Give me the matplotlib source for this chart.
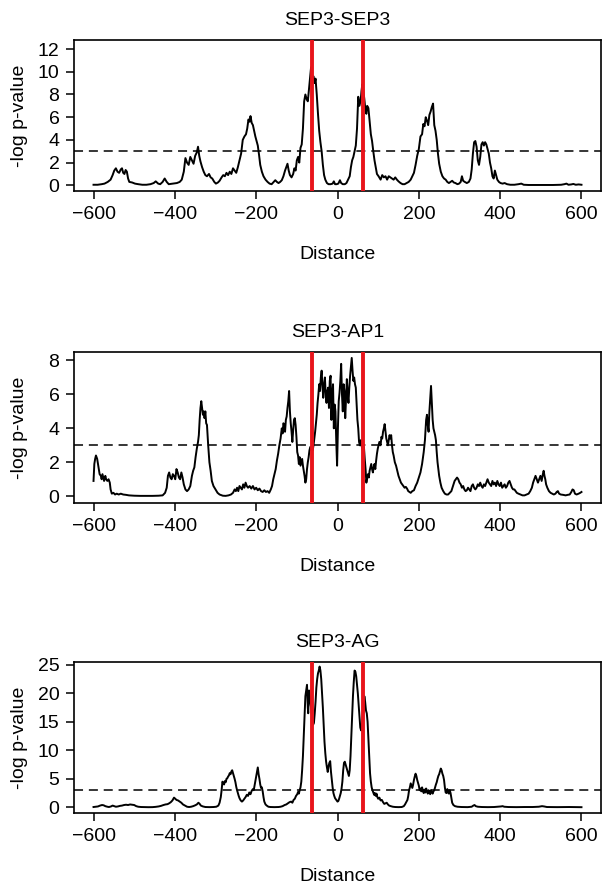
import matplotlib
matplotlib.use("Agg")
import matplotlib.pyplot as plt

plt.rcParams['font.family'] = ['Liberation Sans', 'DejaVu Sans']
plt.rcParams['lines.scale_dashes'] = False

# ---------------- data (distance, -log p-value) ----------------
sep3_sep3 = [(-600,0.05),(-590,0.05),(-580,0.1),(-573,0.15),(-565,0.3),(-558,0.5),(-553,0.9),(-549,1.3),(-545,1.5),(-541,1.2),(-537,1.1),(-533,1.4),(-530,1.5),(-527,1.1),(-524,1.0),(-521,1.35),(-518,1.2),(-515,0.6),(-512,0.3),(-505,0.25),(-498,0.15),(-490,0.1),(-480,0.05),(-470,0.05),(-460,0.1),(-452,0.2),(-447,0.35),(-441,0.15),(-436,0.1),(-430,0.3),(-425,0.6),(-420,0.3),(-415,0.1),(-405,0.15),(-395,0.2),(-388,0.3),(-383,0.5),(-378,1.2),(-374,2.4),(-370,2.0),(-366,1.8),(-362,2.5),(-358,2.2),(-354,1.9),(-350,2.6),(-346,2.9),(-343,3.4),(-340,2.6),(-337,2.1),(-333,1.6),(-329,1.2),(-325,0.9),(-321,0.8),(-316,1.0),(-312,0.7),(-308,0.6),(-303,0.3),(-299,0.15),(-294,0.25),(-290,0.4),(-285,0.7),(-281,0.9),(-277,0.8),(-273,1.1),(-269,0.9),(-265,1.2),(-261,1.0),(-257,1.5),(-253,1.3),(-249,1.1),(-245,1.6),(-241,2.2),(-237,2.8),(-233,4.0),(-229,4.3),(-225,4.5),(-222,5.0),(-219,5.8),(-216,5.6),(-214,6.1),(-211,5.5),(-208,5.3),(-205,4.8),(-202,4.3),(-199,3.9),(-196,3.5),(-193,2.7),(-190,1.8),(-186,1.2),(-182,0.8),(-177,0.5),(-172,0.3),(-167,0.15),(-162,0.1),(-157,0.3),(-153,0.45),(-149,0.3),(-145,0.2),(-141,0.3),(-137,0.45),(-133,0.8),(-129,1.3),(-126,1.6),(-123,1.9),(-120,1.3),(-117,0.9),(-113,0.7),(-109,1.0),(-106,1.5),(-103,1.3),(-100,2.2),(-97,2.5),(-94,2.0),(-91,3.3),(-88,3.6),(-85,5.0),(-82,7.4),(-79,8.0),(-76,7.6),(-73,7.4),(-70,8.5),(-67,9.5),(-65,10.4),(-62,9.4),(-59,9.6),(-56,9.0),(-54,9.4),(-51,8.0),(-48,6.3),(-45,4.8),(-42,3.8),(-39,3.0),(-36,1.8),(-33,0.9),(-30,0.5),(-26,0.2),(-22,0.1),(-17,0.1),(-12,0.15),(-9,0.35),(-6,0.1),(-2,0.1),(2,0.15),(6,0.45),(9,0.2),(13,0.1),(18,0.1),(22,0.2),(26,0.5),(30,0.8),(33,1.6),(36,2.2),(39,2.5),(42,3.0),(45,3.5),(48,5.0),(51,7.8),(54,7.0),(57,7.5),(59,8.3),(61,8.9),(63,8.5),(66,7.6),(69,6.5),(71,6.3),(73,7.0),(76,6.8),(79,5.6),(82,4.5),(85,3.9),(88,3.0),(91,2.2),(94,1.6),(97,1.0),(101,0.8),(106,0.5),(110,0.9),(114,0.7),(118,0.8),(122,0.5),(126,0.8),(130,0.7),(134,0.6),(138,0.5),(142,0.7),(146,0.5),(150,0.35),(155,0.2),(160,0.1),(165,0.1),(170,0.2),(175,0.3),(180,0.5),(184,0.8),(188,1.1),(192,1.8),(196,2.6),(200,3.2),(204,4.3),(208,4.5),(211,5.4),(214,5.2),(217,6.0),(220,5.7),(223,5.3),(226,6.2),(229,6.5),(232,6.9),(235,7.2),(238,5.3),(241,4.8),(244,4.0),(247,2.8),(250,1.9),(254,1.2),(258,0.8),(262,0.6),(266,0.5),(270,0.3),(274,0.2),(278,0.3),(282,0.4),(286,0.25),(290,0.2),(295,0.1),(299,0.15),(303,0.3),(306,0.8),(309,0.4),(313,0.3),(318,0.2),(323,0.3),(327,0.6),(330,1.4),(333,2.8),(336,3.8),(339,3.9),(342,3.4),(345,2.2),(348,1.8),(351,2.5),(354,3.6),(357,3.8),(360,3.5),(363,3.8),(366,3.6),(369,3.2),(372,2.8),(375,2.0),(378,1.5),(381,0.8),(384,0.6),(387,1.3),(390,0.9),(393,0.5),(397,0.3),(401,0.2),(406,0.15),(411,0.2),(417,0.1),(425,0.05),(435,0.05),(445,0.1),(452,0.15),(458,0.05),(470,0.03),(490,0.03),(510,0.03),(530,0.03),(550,0.05),(558,0.1),(563,0.15),(568,0.05),(575,0.08),(580,0.12),(586,0.05),(593,0.08),(600,0.05)]

sep3_ap1 = [(-600,0.9),(-598,1.9),(-596,2.2),(-594,2.4),(-591,2.2),(-589,1.9),(-587,1.6),(-585,1.3),(-582,1.2),(-580,1.0),(-578,1.3),(-576,1.1),(-574,0.9),(-571,1.2),(-569,1.0),(-566,0.9),(-563,1.0),(-560,0.8),(-558,0.4),(-555,0.15),(-551,0.2),(-547,0.1),(-543,0.15),(-538,0.1),(-533,0.15),(-527,0.1),(-520,0.08),(-513,0.05),(-500,0.03),(-485,0.02),(-470,0.02),(-455,0.02),(-440,0.03),(-430,0.05),(-424,0.2),(-420,0.5),(-417,1.2),(-414,1.4),(-411,1.1),(-408,1.0),(-405,1.3),(-402,1.2),(-399,1.0),(-396,1.6),(-393,1.4),(-390,1.1),(-387,1.0),(-384,1.4),(-381,1.1),(-378,0.7),(-374,0.4),(-370,0.3),(-366,0.4),(-362,0.6),(-358,1.2),(-355,1.5),(-352,1.7),(-349,2.3),(-346,2.8),(-343,3.2),(-341,3.6),(-339,4.5),(-337,5.2),(-335,5.6),(-333,5.2),(-331,4.8),(-329,5.0),(-327,4.6),(-325,5.0),(-323,4.3),(-321,4.2),(-318,3.0),(-315,2.0),(-312,1.5),(-309,0.9),(-305,0.6),(-300,0.4),(-295,0.2),(-290,0.1),(-282,0.03),(-275,0.02),(-268,0.05),(-262,0.1),(-257,0.2),(-253,0.4),(-250,0.3),(-247,0.5),(-244,0.3),(-241,0.6),(-238,0.5),(-235,0.4),(-232,0.7),(-229,0.5),(-226,0.8),(-223,0.6),(-220,0.5),(-216,0.6),(-212,0.45),(-208,0.6),(-204,0.4),(-200,0.5),(-196,0.35),(-192,0.45),(-188,0.3),(-184,0.25),(-180,0.35),(-176,0.25),(-172,0.3),(-168,0.2),(-164,0.4),(-161,0.6),(-158,1.0),(-155,1.3),(-152,1.6),(-149,2.1),(-146,2.5),(-143,3.0),(-140,3.4),(-137,4.0),(-135,3.7),(-133,4.3),(-131,4.2),(-129,3.8),(-127,4.5),(-125,4.7),(-123,5.2),(-121,5.6),(-119,6.2),(-117,5.0),(-115,4.3),(-113,3.8),(-111,3.2),(-109,3.9),(-107,4.5),(-105,4.6),(-103,4.2),(-101,3.5),(-99,2.6),(-97,2.4),(-95,1.9),(-93,2.3),(-91,1.8),(-89,2.0),(-87,2.2),(-85,1.8),(-83,1.5),(-81,1.2),(-79,0.8),(-77,1.0),(-75,1.6),(-73,2.0),(-71,2.3),(-69,2.7),(-67,2.9),(-64,2.7),(-61,2.7),(-59,3.0),(-57,3.4),(-55,3.8),(-53,4.3),(-51,4.8),(-49,5.5),(-47,6.0),(-45,6.6),(-43,6.2),(-41,7.0),(-39,7.4),(-37,6.5),(-35,5.8),(-33,6.6),(-31,7.0),(-29,6.0),(-27,5.5),(-25,6.2),(-23,6.4),(-21,5.2),(-19,6.8),(-17,7.1),(-15,4.5),(-13,5.8),(-11,6.6),(-9,4.0),(-7,5.4),(-5,5.0),(-3,3.2),(-1,1.8),(1,4.0),(3,5.6),(5,6.1),(7,6.8),(9,7.8),(11,6.0),(13,5.0),(15,6.6),(17,6.2),(19,4.6),(21,5.8),(23,6.9),(25,6.0),(27,5.5),(29,6.4),(31,7.1),(33,7.6),(35,8.15),(37,7.4),(39,6.8),(41,7.0),(43,6.6),(45,6.4),(47,5.4),(49,4.5),(51,4.0),(53,3.2),(55,3.0),(57,3.3),(59,3.0),(61,2.8),(63,2.6),(65,2.9),(67,2.2),(69,1.6),(71,0.8),(73,1.1),(75,1.3),(77,1.1),(79,1.5),(81,1.7),(83,1.9),(85,1.6),(87,1.4),(89,1.7),(91,1.9),(93,1.6),(95,2.1),(97,2.5),(99,2.8),(101,3.0),(103,3.2),(106,3.0),(108,3.5),(110,3.4),(112,3.8),(114,4.0),(116,4.25),(118,3.8),(120,3.4),(122,3.2),(124,3.0),(126,3.3),(128,3.6),(130,3.4),(132,3.6),(134,3.0),(136,2.6),(138,2.4),(141,2.0),(144,1.8),(147,1.5),(150,1.2),(153,1.0),(156,0.8),(159,0.7),(162,0.6),(165,0.5),(168,0.55),(171,0.45),(174,0.3),(177,0.25),(180,0.2),(184,0.3),(188,0.35),(192,0.6),(196,0.8),(200,1.1),(204,1.4),(208,1.9),(212,2.6),(215,3.3),(218,4.5),(220,4.8),(222,4.2),(224,3.8),(226,5.0),(228,5.8),(230,6.5),(232,5.5),(234,4.5),(236,4.0),(238,3.8),(240,3.6),(242,3.3),(244,2.6),(246,2.0),(248,1.6),(250,1.2),(253,0.8),(256,0.5),(260,0.3),(264,0.15),(268,0.1),(272,0.1),(276,0.2),(280,0.3),(284,0.6),(288,0.9),(291,1.0),(294,1.1),(297,1.0),(300,0.8),(303,0.7),(306,0.5),(309,0.6),(312,0.4),(315,0.3),(318,0.35),(321,0.5),(324,0.4),(327,0.3),(330,0.6),(333,0.7),(336,0.5),(339,0.4),(342,0.5),(345,0.7),(348,0.6),(351,0.8),(354,0.6),(357,0.5),(360,0.7),(363,0.6),(366,0.8),(369,1.0),(372,0.8),(375,0.7),(378,0.6),(381,0.9),(384,0.7),(387,0.8),(390,0.6),(393,0.9),(396,0.7),(399,0.6),(402,0.8),(405,0.5),(408,0.6),(411,0.7),(414,0.5),(417,0.6),(420,0.8),(423,0.9),(426,0.7),(429,0.5),(432,0.4),(435,0.4),(438,0.3),(441,0.2),(445,0.15),(450,0.1),(455,0.05),(460,0.05),(465,0.1),(470,0.15),(474,0.3),(478,0.5),(481,0.8),(484,1.0),(487,1.2),(490,1.0),(493,0.8),(496,1.0),(499,1.2),(502,0.9),(505,1.3),(507,1.5),(509,1.2),(511,1.0),(513,0.7),(516,0.5),(520,0.3),(524,0.2),(528,0.15),(532,0.1),(536,0.15),(539,0.25),(542,0.3),(545,0.15),(549,0.1),(555,0.08),(561,0.05),(566,0.08),(571,0.1),(575,0.25),(578,0.4),(581,0.35),(584,0.15),(588,0.1),(593,0.15),(597,0.2),(600,0.25)]

sep3_ag = [(-600,0.05),(-594,0.1),(-589,0.15),(-584,0.3),(-579,0.4),(-575,0.35),(-571,0.2),(-566,0.1),(-562,0.05),(-557,0.15),(-553,0.3),(-549,0.2),(-545,0.1),(-540,0.15),(-535,0.25),(-530,0.3),(-525,0.4),(-520,0.45),(-515,0.4),(-510,0.5),(-505,0.45),(-500,0.4),(-495,0.2),(-490,0.1),(-483,0.05),(-475,0.03),(-465,0.02),(-455,0.03),(-447,0.08),(-440,0.15),(-434,0.25),(-428,0.4),(-423,0.5),(-418,0.55),(-414,0.7),(-410,0.9),(-406,1.2),(-402,1.7),(-399,1.5),(-396,1.3),(-392,1.2),(-388,1.0),(-384,0.8),(-380,0.5),(-375,0.3),(-370,0.1),(-365,0.05),(-360,0.1),(-355,0.2),(-350,0.35),(-346,0.5),(-342,0.8),(-339,0.6),(-336,0.3),(-331,0.15),(-325,0.05),(-315,0.03),(-305,0.05),(-298,0.1),(-293,0.3),(-290,0.8),(-287,1.8),(-285,3.0),(-283,4.5),(-281,4.3),(-279,4.0),(-277,4.6),(-275,4.4),(-273,5.0),(-271,5.1),(-269,5.4),(-267,5.6),(-265,6.0),(-263,5.8),(-261,6.3),(-259,6.5),(-257,6.0),(-255,5.5),(-253,5.0),(-251,4.4),(-249,3.6),(-247,3.0),(-245,2.5),(-243,2.0),(-241,1.6),(-238,1.2),(-235,1.0),(-232,1.2),(-229,1.5),(-226,1.8),(-223,2.2),(-220,2.0),(-217,2.6),(-214,2.3),(-211,2.9),(-208,3.2),(-206,3.0),(-204,3.8),(-202,4.6),(-200,5.5),(-198,6.3),(-196,7.0),(-194,5.8),(-192,5.0),(-190,4.0),(-188,3.4),(-186,3.5),(-184,2.8),(-182,1.8),(-180,1.0),(-177,0.5),(-174,0.3),(-170,0.1),(-165,0.05),(-155,0.03),(-145,0.05),(-140,0.1),(-135,0.2),(-130,0.4),(-126,0.5),(-122,0.7),(-118,0.9),(-114,1.0),(-111,0.8),(-108,1.3),(-105,1.5),(-102,2.0),(-99,2.3),(-97,2.7),(-95,2.4),(-93,3.0),(-91,3.5),(-89,4.5),(-87,6.5),(-85,9.0),(-83,12.5),(-81,16.0),(-79,19.5),(-77,20.5),(-75,21.5),(-74,19.5),(-73,17.5),(-72,16.5),(-71,18.5),(-70,20.5),(-68,19.5),(-66,18.0),(-64,17.0),(-62,15.5),(-60,14.5),(-58,14.8),(-56,16.5),(-54,18.5),(-52,21.0),(-50,22.5),(-48,23.5),(-46,24.0),(-44,24.7),(-42,24.0),(-40,22.5),(-38,20.0),(-36,17.5),(-34,14.5),(-32,11.5),(-30,9.5),(-28,8.0),(-26,7.0),(-24,6.2),(-22,7.2),(-20,7.8),(-18,8.1),(-17,7.0),(-16,6.2),(-14,4.8),(-12,3.5),(-10,2.5),(-8,2.0),(-6,1.6),(-4,1.4),(-2,1.2),(0,1.0),(2,1.1),(4,1.5),(6,2.0),(8,2.5),(10,3.3),(12,4.5),(14,6.5),(16,7.8),(18,8.0),(20,7.5),(22,7.0),(24,6.5),(26,6.0),(28,5.5),(30,6.5),(32,9.0),(34,12.5),(36,16.0),(38,19.5),(40,22.0),(42,24.0),(44,23.8),(46,23.0),(48,21.5),(50,20.0),(52,18.0),(54,16.0),(56,14.0),(58,13.5),(60,14.0),(62,15.5),(64,17.5),(66,19.5),(68,18.5),(70,17.0),(72,16.5),(74,15.0),(76,12.0),(78,9.0),(80,6.0),(82,4.5),(84,3.5),(86,3.0),(88,2.6),(90,2.2),(92,2.5),(94,2.0),(96,2.4),(98,1.8),(100,1.5),(103,1.7),(106,1.2),(109,1.3),(112,0.9),(115,0.6),(118,0.7),(121,0.8),(124,0.5),(127,0.3),(131,0.2),(136,0.1),(142,0.05),(150,0.03),(158,0.05),(163,0.2),(166,0.5),(169,0.9),(172,1.3),(174,2.0),(176,3.0),(178,3.5),(180,4.2),(182,3.8),(184,3.4),(186,4.0),(188,4.8),(190,5.4),(192,5.9),(194,5.5),(196,4.8),(198,4.3),(200,3.8),(202,3.0),(204,3.3),(206,2.8),(208,3.5),(210,2.9),(212,2.5),(214,3.1),(216,2.6),(218,3.3),(220,2.9),(222,2.4),(224,3.0),(226,2.6),(228,2.3),(230,3.0),(232,2.7),(234,2.4),(236,2.8),(238,3.0),(240,3.5),(242,4.0),(244,4.4),(246,5.0),(248,5.5),(250,5.8),(252,6.3),(254,6.8),(256,6.5),(258,5.9),(260,5.5),(262,4.8),(264,3.5),(266,2.6),(268,2.5),(270,3.2),(272,2.6),(274,2.4),(276,3.0),(278,2.5),(280,1.6),(282,0.8),(285,0.4),(289,0.2),(295,0.1),(305,0.05),(320,0.03),(330,0.1),(334,0.3),(337,0.4),(340,0.2),(345,0.1),(355,0.05),(370,0.03),(385,0.05),(395,0.1),(402,0.15),(406,0.2),(410,0.1),(420,0.05),(440,0.03),(460,0.05),(480,0.05),(495,0.1),(503,0.2),(508,0.15),(515,0.05),(540,0.03),(570,0.05),(600,0.02)]

titles = ["SEP3-SEP3", "SEP3-AP1", "SEP3-AG"]
series = [sep3_sep3, sep3_ap1, sep3_ag]
x_ticks = [-600, -400, -200, 0, 200, 400, 600]
y_ticks = [[0, 2, 4, 6, 8, 10, 12], [0, 2, 4, 6, 8], [0, 5, 10, 15, 20, 25]]
y_limits = [(-0.5, 12.8), (-0.4, 8.5), (-1.0, 25.5)]
threshold = 3
region_bounds = [-63, 62]
x_label = "Distance"
y_label = "-log p-value"

# ---------------- layout ----------------
W, H = 604, 886
fig = plt.figure(figsize=(W / 100, H / 100), dpi=100)
ax_left, ax_right = 74, 601
ax_tops = [40, 352, 662]
ax_h = 151
FS = 14

for i in range(3):
    top = ax_tops[i]
    ax = fig.add_axes([ax_left / W, 1 - (top + ax_h) / H,
                       (ax_right - ax_left) / W, ax_h / H])
    xs = [p[0] for p in series[i]]
    ys = [p[1] for p in series[i]]
    ax.plot(xs, ys, color='black', lw=1.4, zorder=3)
    ax.axhline(threshold, color='black', lw=1.1, dashes=(6.5, 4.2), zorder=2)
    for b in region_bounds:
        ax.axvline(b, color='#e8141b', lw=2.8, zorder=4)
    ax.set_xlim(-648, 648)
    ax.set_ylim(*y_limits[i])
    ax.set_xticks(x_ticks)
    ax.set_yticks(y_ticks[i])
    ax.tick_params(axis='both', direction='out', length=5.5, width=1.1,
                   labelsize=FS, colors='black')
    ax.tick_params(axis='x', pad=5.0)
    ax.tick_params(axis='y', pad=5.0)
    for s in ax.spines.values():
        s.set_linewidth(1.2)
    ax.set_title(titles[i], fontsize=FS, pad=10.5)
    ax.set_xlabel(x_label, fontsize=FS)
    ax.xaxis.set_label_coords(0.5, (0 - 55) / ax_h)
    ax.set_ylabel(y_label, fontsize=FS)
    ax.yaxis.set_label_coords((28 - ax_left) / (ax_right - ax_left), 0.5)

fig.savefig("out.png", dpi=100)
